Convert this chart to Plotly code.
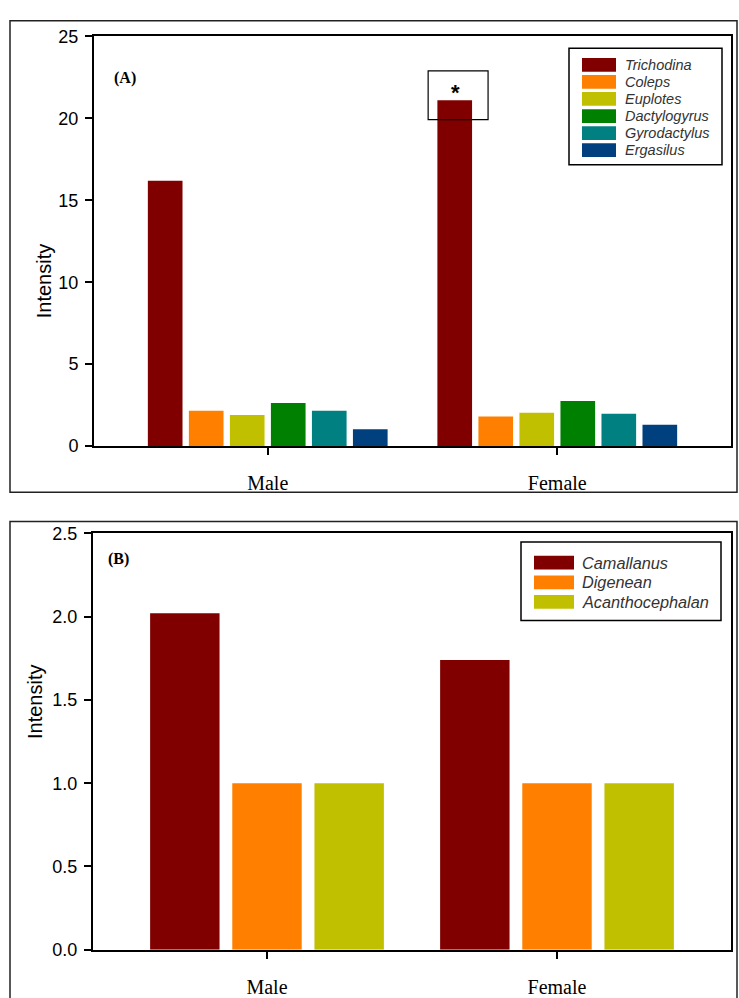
import plotly.graph_objects as go

W, H = 739, 998

# ---------------- data ----------------
sexes = ["Male", "Female"]

ecto_names = ["Trichodina", "Coleps", "Euplotes", "Dactylogyrus", "Gyrodactylus", "Ergasilus"]
ecto_colors = ["#800000", "#FF8000", "#C0C000", "#008000", "#008080", "#00407F"]
trichodina = [16.2, 21.1]
coleps = [2.15, 1.8]
euplotes = [1.9, 2.03]
dactylogyrus = [2.63, 2.75]
gyrodactylus = [2.15, 1.97]
ergasilus = [1.02, 1.3]
ecto_values = [trichodina, coleps, euplotes, dactylogyrus, gyrodactylus, ergasilus]

endo_names = ["Camallanus", "Digenean", "Acanthocephalan"]
endo_colors = ["#800000", "#FF8000", "#C0C000"]
camallanus = [2.02, 1.74]
digenean = [1.0, 1.0]
acanthocephalan = [1.0, 1.0]
endo_values = [camallanus, digenean, acanthocephalan]

yticks_a = [0, 5, 10, 15, 20, 25]
yticks_b = [0.0, 0.5, 1.0, 1.5, 2.0, 2.5]
ytick_b_text = ["0.0", "0.5", "1.0", "1.5", "2.0", "2.5"]

SANS = "Liberation Sans, Arial, sans-serif"
SERIF = "Liberation Serif, Times New Roman, serif"


def px(x):
    return x / W


def py(y):
    return 1 - y / H


fig = go.Figure()

for name, col, vals in zip(ecto_names, ecto_colors, ecto_values):
    fig.add_trace(go.Bar(x=sexes, y=vals, name=name, marker=dict(color=col, line=dict(width=0)),
                         xaxis="x", yaxis="y", offsetgroup=name, showlegend=False))

for name, col, vals in zip(endo_names, endo_colors, endo_values):
    fig.add_trace(go.Bar(x=sexes, y=vals, name=name, marker=dict(color=col, line=dict(width=0)),
                         xaxis="x2", yaxis="y2", offsetgroup=name, showlegend=False))

axis_common = dict(showline=True, linewidth=2, linecolor="black", mirror=True,
                   ticks="outside", ticklen=7, tickwidth=2, tickcolor="black",
                   showgrid=False, zeroline=False)

shapes = []
annotations = []

# outer panel frames
shapes.append(dict(type="rect", xref="paper", yref="paper", x0=px(10), x1=px(737), y0=py(492), y1=py(11),
                   line=dict(color="#222", width=1.5)))
shapes.append(dict(type="rect", xref="paper", yref="paper", x0=px(10), x1=px(737), y0=py(1010), y1=py(522),
                   line=dict(color="#222", width=1.5)))

# significance box around female Trichodina bar
top = trichodina[1]
shapes.append(dict(type="rect", xref="x", yref="y", x0=1 - 0.446, x1=1 - 0.239, y0=top - 1.18, y1=top + 1.8,
                   line=dict(color="black", width=1.2)))
annotations.append(dict(xref="x", yref="y", x=1 - 0.351, y=top + 0.5, text="<b>*</b>", showarrow=False,
                        yanchor="middle", font=dict(family=SANS, size=22, color="black")))

# panel labels
annotations.append(dict(xref="paper", yref="paper", x=px(112), y=py(58), text="<b>(A)</b>", showarrow=False,
                        xanchor="left", font=dict(family=SERIF, size=16, color="black")))
annotations.append(dict(xref="paper", yref="paper", x=px(106), y=py(560), text="<b>(B)</b>", showarrow=False,
                        xanchor="left", font=dict(family=SERIF, size=16, color="black")))

# y-axis titles
annotations.append(dict(xref="paper", yref="paper", x=px(31), y=py(237), text="Intensity", showarrow=False,
                        textangle=-90, font=dict(family=SANS, size=20, color="black")))
annotations.append(dict(xref="paper", yref="paper", x=px(22), y=py(746), text="Intensity", showarrow=False,
                        textangle=-90, font=dict(family=SANS, size=20, color="black")))

# legend A
shapes.append(dict(type="rect", xref="paper", yref="paper", x0=px(569), x1=px(722), y0=py(158), y1=py(39),
                   line=dict(color="black", width=1.5), fillcolor="white"))
for i, (name, col) in enumerate(zip(ecto_names, ecto_colors)):
    yc = 56 + i * 17.4
    shapes.append(dict(type="rect", xref="paper", yref="paper", x0=px(582), x1=px(616),
                       y0=py(yc + 7), y1=py(yc - 7), line=dict(width=0), fillcolor=col))
    annotations.append(dict(xref="paper", yref="paper", x=px(623), y=py(yc), text="<i>%s</i>" % name,
                            showarrow=False, xanchor="left", yanchor="middle",
                            font=dict(family=SANS, size=14.5, color="#333")))

# legend B
shapes.append(dict(type="rect", xref="paper", yref="paper", x0=px(521), x1=px(721), y0=py(623), y1=py(543),
                   line=dict(color="black", width=1.5), fillcolor="white"))
for i, (name, col) in enumerate(zip(endo_names, endo_colors)):
    yc = 564 + i * 20
    shapes.append(dict(type="rect", xref="paper", yref="paper", x0=px(534), x1=px(574),
                       y0=py(yc + 7), y1=py(yc - 7), line=dict(width=0), fillcolor=col))
    annotations.append(dict(xref="paper", yref="paper", x=px(580), y=py(yc), text="<i>%s</i>" % name,
                            showarrow=False, xanchor="left", yanchor="middle",
                            font=dict(family=SANS, size=16.3, color="#333")))

fig.update_layout(
    width=W, height=H,
    margin=dict(l=0, r=0, t=0, b=0),
    paper_bgcolor="white", plot_bgcolor="white",
    barmode="group", bargap=0.15, bargroupgap=0.155,
    showlegend=False,
    xaxis=dict(axis_common, domain=[px(94), px(731)], anchor="y", range=[-0.6, 1.6],
               tickfont=dict(family=SERIF, size=20, color="black"), ticklabelstandoff=11),
    yaxis=dict(axis_common, domain=[py(445), py(27)], anchor="x", range=[0, 25],
               tickvals=yticks_a, tickfont=dict(family=SANS, size=18, color="black"), ticklabelstandoff=3),
    xaxis2=dict(axis_common, domain=[px(93), px(731)], anchor="y2", range=[-0.6, 1.6],
                tickfont=dict(family=SERIF, size=20, color="black"), ticklabelstandoff=11),
    yaxis2=dict(axis_common, domain=[py(959), py(534)], anchor="x2", range=[0, 2.5],
                tickvals=yticks_b, ticktext=ytick_b_text,
                tickfont=dict(family=SANS, size=18, color="black"), ticklabelstandoff=3),
    shapes=shapes,
    annotations=annotations,
)

fig.write_html(
    "out.html",
    config={"displayModeBar": False},
    post_script=(
        "var s=document.createElement('style');"
        "s.textContent='html,body{margin:0!important;padding:0!important;overflow:hidden;}';"
        "document.head.appendChild(s);"
    ),
)
